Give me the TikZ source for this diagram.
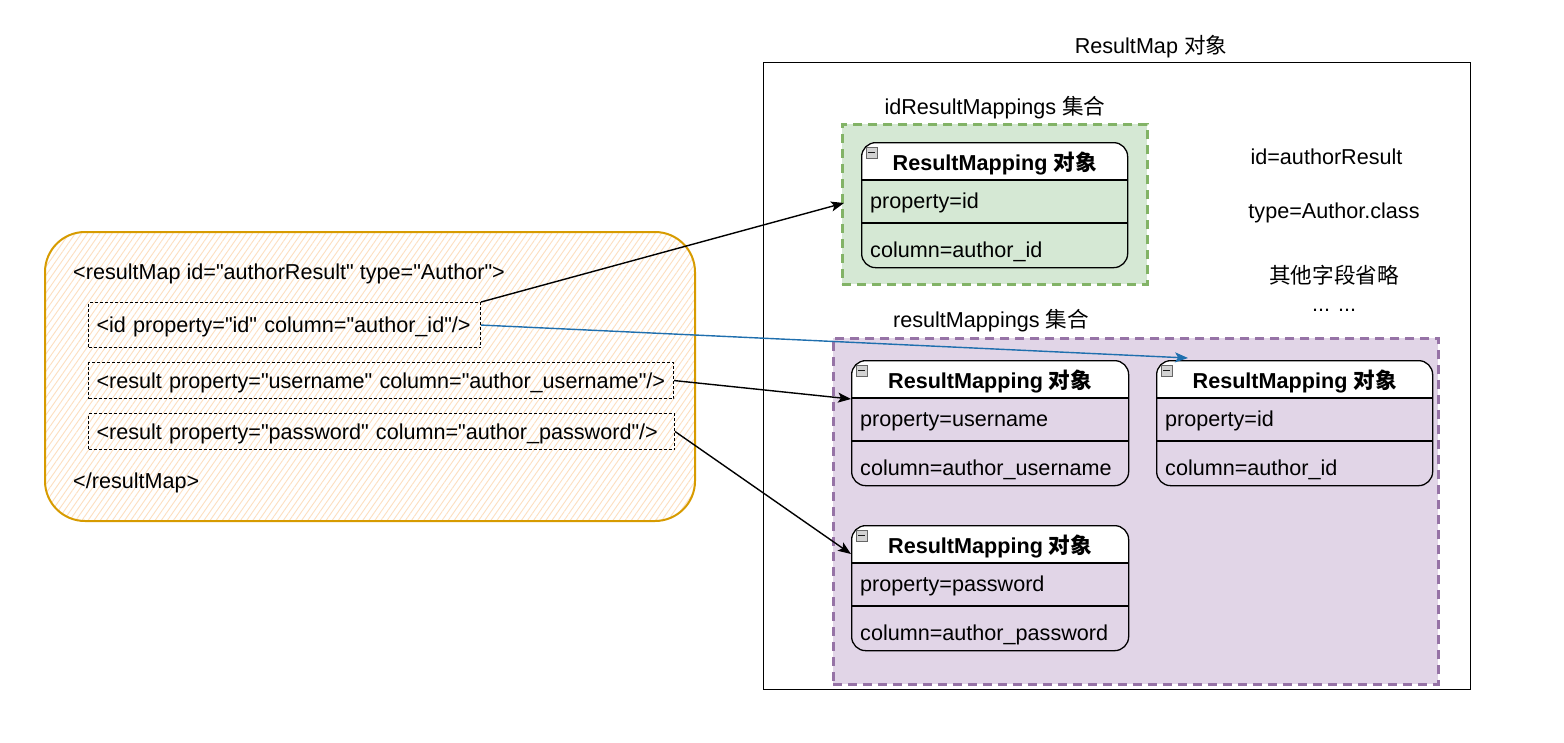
\documentclass[tikz,border=0pt]{standalone}
\usepackage{fontspec}
\setmainfont{Liberation Sans}[Ligatures=TeXOff]
\newfontfamily\cjk{Noto Sans CJK SC}
\usetikzlibrary{arrows.meta,patterns.meta,calc}
\definecolor{gfill}{HTML}{D5E8D4}
\definecolor{gline}{HTML}{82B366}
\definecolor{pfill}{HTML}{E1D5E7}
\definecolor{pline}{HTML}{9673A6}
\definecolor{oline}{HTML}{D79B00}
\definecolor{ohatch}{HTML}{FDDFC0}
\definecolor{blueln}{HTML}{1F6FAE}
\tikzset{
  txt/.style={inner sep=0pt, text height=15.5pt, text depth=0pt},
  rmframe/.style={draw=black, line width=1.3pt, rounded corners=14pt, inner sep=0pt, anchor=north west},
  minusicon/.style={draw=gray!80!black, fill=gray!35, minimum width=11pt, minimum height=11pt, inner sep=0pt, line width=0.6pt},
  xmlbox/.style={draw=black, line width=1.1pt, dash pattern=on 3pt off 2pt, anchor=north west, inner xsep=8pt, inner ysep=0pt, align=left, text height=15.5pt, text depth=0pt},
  arr/.style={-{Stealth[length=13pt,width=10pt,inset=3pt]}, line width=1.4pt},
  coll/.style={line width=2.6pt, dash pattern=on 9pt off 6pt}
}
\newcommand\rmbox[6]{%
  \begin{scope}
    \clip[rounded corners=14pt] (#2,#3) rectangle ++(#4,125);
    \fill[white] (#2,#3) rectangle ++(#4,38);
  \end{scope}
  \node[rmframe, minimum width=#4pt, minimum height=125pt] (#1) at (#2,#3) {};
  \draw[line width=1.3pt] ($(#1.north west)+(0,38)$) -- ($(#1.north east)+(0,38)$);
  \draw[line width=1.3pt] ($(#1.north west)+(0,81)$) -- ($(#1.north east)+(0,81)$);
  \node[minusicon] (#1i) at ($(#1.north west)+(10.5,10.5)$) {};
  \draw[line width=1pt, gray!20!black] ($(#1i.center)+(-3.5,0)$) -- ($(#1i.center)+(3.5,0)$);
  \node[txt] (#1h) at ($(#1.north)+(0,21)$) {\bfseries ResultMapping {\cjk\bfseries 对象}};
  \node[txt, anchor=west] (#1p) at ($(#1.north west)+(9,59)$) {#5};
  \node[txt, anchor=west] (#1c) at ($(#1.north west)+(9,108)$) {#6};
}
\begin{document}
\begin{tikzpicture}[x=1pt,y=-1pt, font=\fontsize{21.6}{26}\selectfont]
\useasboundingbox (0,0) rectangle (1564,742);

% outer ResultMap box
\node[draw=black, line width=1.3pt, minimum width=707pt, minimum height=627pt, anchor=north west, inner sep=0pt] (rmap) at (763,62) {};
\node[txt] (rmapt) at (1151,46) {ResultMap {\cjk 对象}};

% green collection
\node[coll, draw=gline, fill=gfill, minimum width=305pt, minimum height=160pt, anchor=north west, inner sep=0pt] (idcol) at (841,123) {};
\node[txt] (idcolt) at (995,107) {idResultMappings {\cjk 集合}};

% purple collection
\node[coll, draw=pline, fill=pfill, minimum width=605pt, minimum height=346pt, anchor=north west, inner sep=0pt] (rcol) at (832,337) {};
\node[txt] (rcolt) at (991,320) {resultMappings {\cjk 集合}};

% ResultMapping boxes
\rmbox{m1}{861}{142}{266}{property=id}{column=author\_id}
\rmbox{m2}{851}{360}{277}{property=username}{column=author\_username}
\rmbox{m3}{1156}{360}{276}{property=id}{column=author\_id}
\rmbox{m4}{851}{525}{277}{property=password}{column=author\_password}

% right side texts
\node[txt] (tid) at (1326.5,157) {id=authorResult};
\node[txt] (ttype) at (1334,211) {type=Author.class};
\node[txt] (tother) at (1334,276) {\cjk 其他字段省略};
\node[txt] (tdots) at (1334,304) {... ...};

% left orange xml box
\path[preaction={fill=white}, pattern={Lines[angle=55,distance=5pt,line width=0.9pt]}, pattern color=ohatch]
  [rounded corners=40pt] (45,232) rectangle (695,521);
\draw[draw=oline, line width=2pt, rounded corners=40pt] (45,232) rectangle (695,521);
\node[txt, anchor=west] (xopen) at (73,272) {<resultMap id="authorResult" type="Author">};
\node[xmlbox, text width=376pt, minimum height=45pt] (xid) at (88,302) {<id property="id" column="author\_id"/>};
\node[xmlbox, text width=569pt, minimum height=36pt] (xuser) at (88,362) {<result property="username" column="author\_username"/>};
\node[xmlbox, text width=570pt, minimum height=36pt] (xpass) at (88,413) {<result property="password" column="author\_password"/>};
\node[txt, anchor=west] (xclose) at (73,481) {</resultMap>};

% connectors
\coordinate (t1) at (844,203);
\coordinate (t2) at (1188,358);
\coordinate (t3) at (851,399);
\coordinate (t4) at (851,554);
\draw[arr] (xid.north east) -- (t1);
\draw[arr, draw=blueln, fill=blueln] (xid.east) -- (t2);
\draw[arr] (xuser.east) -- (t3);
\draw[arr] (xpass.east) -- (t4);
\end{tikzpicture}
\end{document}
